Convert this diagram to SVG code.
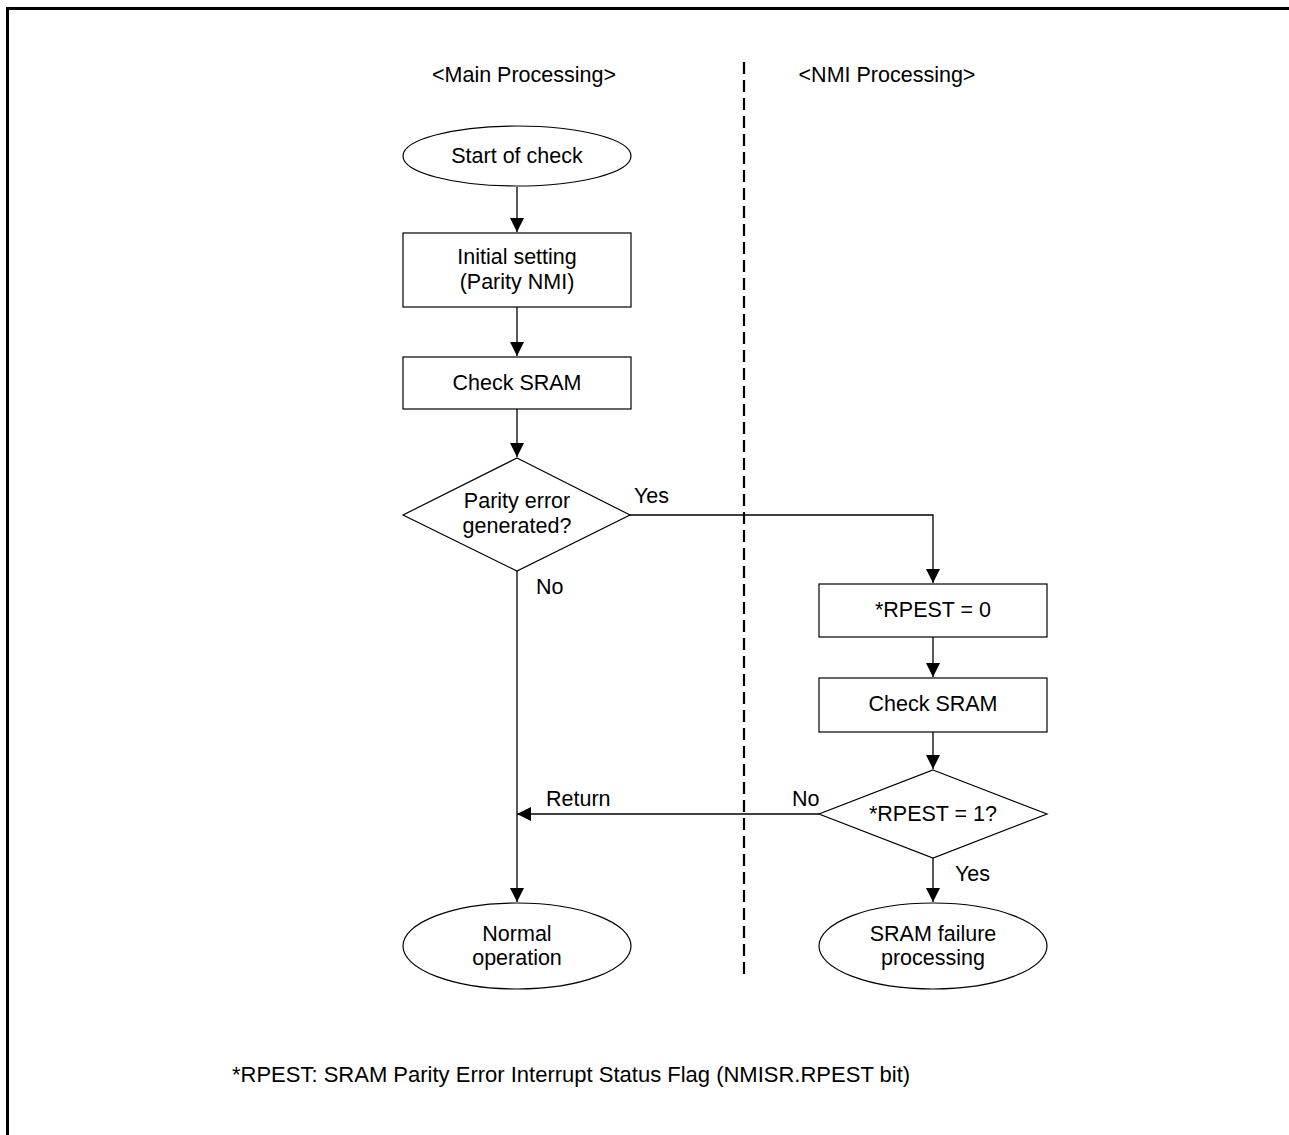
<svg xmlns="http://www.w3.org/2000/svg" width="1289" height="1135" viewBox="0 0 1289 1135">
<defs>
<marker id="ah" viewBox="0 0 14 14" refX="14" refY="7" markerWidth="14" markerHeight="14" markerUnits="userSpaceOnUse" orient="auto">
<path d="M0,0 L14,7 L0,14 Z" fill="#000"/>
</marker>
<style>
.s{fill:#fff;stroke:#000;stroke-width:1.2}
.t{font-family:"Liberation Sans",Arial,sans-serif;font-size:21.5px;fill:#000}
.m{text-anchor:middle}
.c{fill:none;stroke:#000;stroke-width:1.3}
</style>
</defs>
<rect width="1289" height="1135" fill="#fff"/>
<g id="frame">
<line x1="6" y1="8.5" x2="1289" y2="8.5" stroke="#000" stroke-width="3"/>
<line x1="7.5" y1="7" x2="7.5" y2="1135" stroke="#000" stroke-width="3"/>
</g>
<g id="lane-divider">
<line x1="744" y1="62" x2="744" y2="975" stroke="#000" stroke-width="2.2" stroke-dasharray="12,6"/>
</g>
<text class="t m" x="524" y="82">&lt;Main Processing&gt;</text>
<text class="t m" x="887" y="82">&lt;NMI Processing&gt;</text>
<g id="connectors">
<path class="c" d="M517,187 L517,232" marker-end="url(#ah)"/>
<path class="c" d="M517,307 L517,356" marker-end="url(#ah)"/>
<path class="c" d="M517,409 L517,457" marker-end="url(#ah)"/>
<path class="c" d="M517,571 L517,902" marker-end="url(#ah)"/>
<path class="c" d="M630,515 L933,515 L933,583" marker-end="url(#ah)"/>
<path class="c" d="M933,637 L933,677" marker-end="url(#ah)"/>
<path class="c" d="M933,732 L933,769" marker-end="url(#ah)"/>
<path class="c" d="M819,814 L517,814" marker-end="url(#ah)"/>
<path class="c" d="M933,858 L933,902" marker-end="url(#ah)"/>
<text class="t" x="634" y="503">Yes</text>
<text class="t" x="536" y="594">No</text>
<text class="t" x="546" y="806">Return</text>
<text class="t" x="792" y="806">No</text>
<text class="t" x="955" y="881">Yes</text>
</g>
<g id="start">
<ellipse class="s" cx="517" cy="156" rx="114" ry="30"/>
<text class="t m" x="517" y="163">Start of check</text>
</g>
<g id="init">
<rect class="s" x="403" y="233" width="228" height="74"/>
<text class="t m" x="517" y="264">Initial setting</text>
<text class="t m" x="517" y="289">(Parity NMI)</text>
</g>
<g id="check-main">
<rect class="s" x="403" y="357" width="228" height="52"/>
<text class="t m" x="517" y="390">Check SRAM</text>
</g>
<g id="parity-decision">
<polygon class="s" points="517,458 630,515 517,571 403,515"/>
<text class="t m" x="517" y="508">Parity error</text>
<text class="t m" x="517" y="533">generated?</text>
</g>
<g id="rpest0">
<rect class="s" x="819" y="584" width="228" height="53"/>
<text class="t m" x="933" y="617">*RPEST = 0</text>
</g>
<g id="check-nmi">
<rect class="s" x="819" y="678" width="228" height="54"/>
<text class="t m" x="933" y="711">Check SRAM</text>
</g>
<g id="rpest1-decision">
<polygon class="s" points="933,770 1047,814 933,858 819,814"/>
<text class="t m" x="933" y="821">*RPEST = 1?</text>
</g>
<g id="normal">
<ellipse class="s" cx="517" cy="946" rx="114" ry="43"/>
<text class="t m" x="517" y="941">Normal</text>
<text class="t m" x="517" y="965">operation</text>
</g>
<g id="failure">
<ellipse class="s" cx="933" cy="946" rx="114" ry="43"/>
<text class="t m" x="933" y="941">SRAM failure</text>
<text class="t m" x="933" y="965">processing</text>
</g>
<text class="t" x="232" y="1082" style="font-size:22px">*RPEST: SRAM Parity Error Interrupt Status Flag (NMISR.RPEST bit)</text>
</svg>
